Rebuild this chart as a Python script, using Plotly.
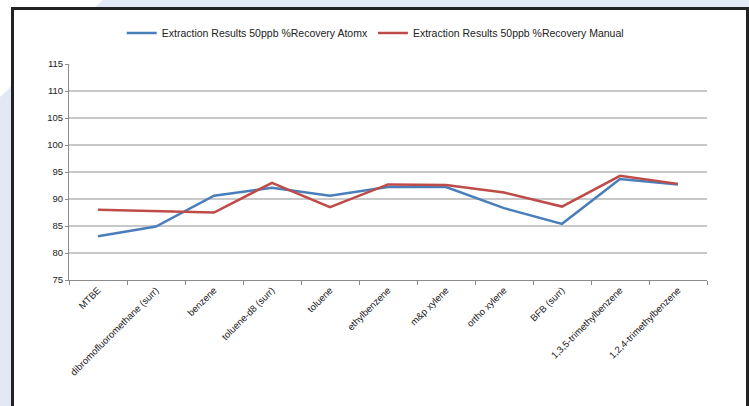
import plotly.graph_objects as go

categories = ["MTBE", "dibromofluoromethane (surr)", "benzene", "toluene-d8 (surr)",
              "toluene", "ethylbenzene", "m&p xylene", "ortho xylene", "BFB (surr)",
              "1,3,5-trimethylbenzene", "1,2,4-trimethylbenzene"]
atomx = [83.1, 84.9, 90.6, 92.1, 90.6, 92.2, 92.2, 88.3, 85.4, 93.7, 92.7]
manual = [88.0, 87.7, 87.5, 93.0, 88.5, 92.7, 92.6, 91.2, 88.6, 94.3, 92.8]
y_ticks = [75, 80, 85, 90, 95, 100, 105, 110, 115]

W, H = 749, 406
L, R, T, B = 69, 707, 64, 280

def px(x):
    return (x - L) / (R - L)

def to_py(y):
    return (B - y) / (B - T)

fig = go.Figure()
fig.add_trace(go.Scatter(x=categories, y=atomx, mode="lines",
                         name="Extraction Results 50ppb %Recovery Atomx",
                         line=dict(color="#4a7ebb", width=2.5)))
fig.add_trace(go.Scatter(x=categories, y=manual, mode="lines",
                         name="Extraction Results 50ppb %Recovery Manual",
                         line=dict(color="#be4b48", width=2.5)))

shapes = [
    dict(type="path", xref="paper", yref="paper", layer="below",
         path=f"M {px(0)},{to_py(0)} L {px(103)},{to_py(0)} L {px(0)},{to_py(97)} Z",
         fillcolor="#ffffff", line=dict(width=0)),
    dict(type="rect", xref="paper", yref="paper", layer="below",
         x0=px(12.5), x1=px(747.5), y0=to_py(420), y1=to_py(8.5),
         fillcolor="#ffffff", line=dict(color="#222222", width=3)),
]

fig.update_layout(
    width=W, height=H,
    margin=dict(l=L, r=W - R, t=T, b=H - B),
    paper_bgcolor="#e3e8f5",
    plot_bgcolor="rgba(0,0,0,0)",
    font=dict(family="Liberation Sans, Arial, sans-serif", size=9, color="#333333"),
    shapes=shapes,
    showlegend=True,
    legend=dict(orientation="h", x=0.48, xanchor="center", y=to_py(33), yanchor="middle",
                font=dict(size=10.5, color="#222222"), bgcolor="rgba(0,0,0,0)",
                itemwidth=30, tracegroupgap=0),
    xaxis=dict(type="category", range=[-0.5, len(categories) - 0.5],
               showgrid=False, showline=True, linecolor="#8c8c8c", linewidth=1,
               ticks="outside", ticklen=4, tickcolor="#8c8c8c", tickson="boundaries",
               tickangle=-45, tickfont=dict(size=9.5, color="#222222"), zeroline=False,
               fixedrange=True),
    yaxis=dict(range=[75, 115], tickvals=y_ticks, showgrid=True, gridcolor="#c8c8c8",
               gridwidth=2, showline=True, linecolor="#8c8c8c", linewidth=1,
               ticks="outside", ticklen=3, tickcolor="#8c8c8c",
               tickfont=dict(size=9.5, color="#222222"), zeroline=False, fixedrange=True),
)

fig.write_html("out.html", config={"displayModeBar": False},
               post_script="document.body.style.margin='0';document.body.style.background='#e3e8f5';")
